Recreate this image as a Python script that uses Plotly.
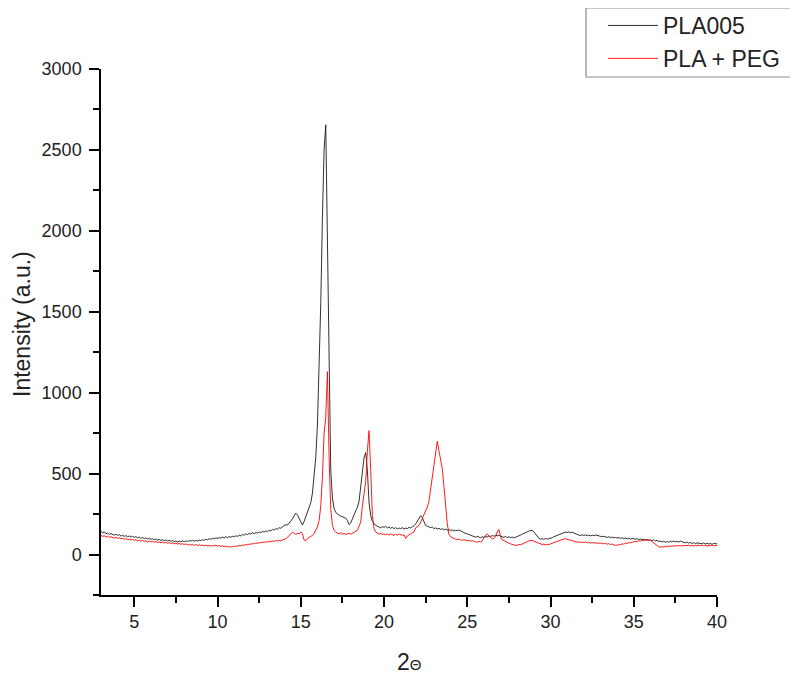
import plotly.graph_objects as go

# 2-theta grid (degrees), 0.1 deg step from 3.0 to 40.0
two_theta = [round(3.0 + 0.1 * i, 1) for i in range(371)]

# PLA005 intensities (a.u.)
pla005 = [
    142, 135, 140, 128, 133, 124, 130, 127, 120, 126,   # 3
    118, 123, 114, 119, 112, 117, 110, 115, 108, 113,   # 4
    106, 111, 103, 108, 100, 105, 98, 103, 96, 101,     # 5
    94, 98, 91, 96, 89, 93, 87, 92, 86, 90,             # 6
    84, 88, 81, 86, 79, 84, 78, 83, 80, 85,             # 7
    79, 84, 81, 86, 83, 88, 82, 87, 84, 89,             # 8
    86, 92, 88, 95, 91, 98, 94, 100, 97, 103,           # 9
    99, 105, 101, 108, 103, 110, 105, 111, 107, 113,    # 10
    109, 116, 112, 120, 115, 124, 119, 128, 123, 131,   # 11
    126, 134, 129, 137, 132, 140, 135, 143, 138, 146,   # 12
    141, 150, 146, 155, 151, 160, 156, 166, 162, 172,   # 13
    176, 185, 182, 195, 205, 220, 240, 256, 245, 220,   # 14
    200, 182, 205, 235, 262, 290, 320, 380, 470, 600,   # 15
    800, 1150, 1550, 2086, 2500, 2655, 1950, 1000, 520, 350,  # 16
    285, 260, 250, 243, 238, 235, 228, 225, 210, 185,   # 17
    195, 225, 245, 270, 290, 330, 430, 540, 600, 630,   # 18
    520, 320, 240, 205, 190, 180, 175, 170, 165, 172,   # 19
    168, 174, 165, 170, 162, 169, 160, 166, 158, 164,   # 20
    160, 166, 158, 163, 160, 168, 164, 172, 178, 190,   # 21
    205, 222, 240, 228, 200, 180, 175, 170, 166, 170,   # 22
    160, 165, 158, 162, 155, 160, 152, 157, 150, 155,   # 23
    148, 152, 145, 150, 147, 152, 146, 140, 135, 130,   # 24
    128, 124, 120, 115, 110, 107, 112, 108, 104, 110,   # 25
    106, 112, 108, 115, 110, 118, 113, 120, 116, 118,   # 26
    114, 110, 106, 112, 105, 110, 104, 108, 103, 107,   # 27
    110, 115, 120, 126, 132, 138, 142, 145, 148, 150,   # 28
    140, 125, 110, 100, 96, 98, 94, 99, 95, 97,         # 29
    100, 104, 110, 115, 120, 124, 128, 132, 135, 138,   # 30
    136, 140, 135, 138, 132, 128, 124, 120, 118, 122,   # 31
    118, 122, 116, 120, 115, 119, 117, 121, 118, 116,   # 32
    114, 110, 112, 108, 106, 110, 105, 108, 103, 106,   # 33
    102, 105, 100, 104, 98, 102, 97, 101, 95, 99,       # 34
    97, 95, 99, 93, 96, 92, 95, 90, 94, 89,             # 35
    90, 86, 92, 84, 88, 80, 83, 78, 82, 76,             # 36
    80, 76, 82, 78, 84, 79, 81, 77, 83, 78,             # 37
    76, 72, 78, 70, 75, 68, 74, 67, 72, 69,             # 38
    70, 66, 72, 64, 70, 65, 69, 63, 68, 66,             # 39
    66,                                                 # 40
]

# PLA + PEG intensities (a.u.)
pla_peg = [
    118, 112, 116, 108, 113, 106, 110, 105, 102, 107,   # 3
    100, 104, 97, 101, 94, 99, 92, 96, 90, 94,          # 4
    88, 92, 85, 89, 83, 87, 81, 85, 79, 84,             # 5
    78, 82, 76, 80, 74, 78, 72, 77, 71, 75,             # 6
    70, 74, 68, 72, 66, 70, 65, 69, 63, 67,             # 7
    62, 66, 60, 64, 58, 63, 57, 61, 56, 60,             # 8
    55, 59, 54, 58, 53, 57, 52, 56, 54, 58,             # 9
    52, 56, 50, 54, 48, 52, 46, 50, 45, 49,             # 10
    48, 53, 51, 56, 54, 59, 57, 62, 60, 65,             # 11
    63, 68, 66, 71, 69, 74, 72, 77, 75, 79,             # 12
    77, 82, 79, 84, 81, 86, 83, 88, 85, 90,             # 13
    92, 98, 106, 115, 125, 138, 132, 125, 130, 128,     # 14
    140, 128, 90, 85, 100, 108, 112, 118, 130, 150,     # 15
    170, 210, 300, 480, 746, 850, 1130, 600, 280, 180,  # 16
    150, 138, 132, 128, 135, 126, 130, 124, 128, 132,   # 17
    125, 130, 135, 142, 150, 175, 200, 300, 380, 450,   # 18
    640, 765, 520, 240, 160, 140, 132, 126, 130, 124,   # 19
    128, 122, 126, 120, 128, 123, 118, 125, 120, 127,   # 20
    124, 118, 122, 100, 115, 120, 126, 132, 140, 165,   # 21
    172, 180, 200, 225, 245, 265, 293, 330, 400, 478,   # 22
    560, 640, 700, 640, 570, 530, 420, 300, 190, 125,   # 23
    110, 104, 98, 95, 92, 96, 90, 88, 92, 86,           # 24
    85, 88, 82, 86, 80, 78, 76, 82, 79, 85,             # 25
    105, 120, 128, 115, 105, 97, 100, 110, 140, 155,    # 26
    110, 90, 87, 80, 74, 70, 66, 62, 58, 56,            # 27
    58, 62, 60, 66, 70, 75, 80, 84, 86, 88,             # 28
    82, 78, 72, 68, 65, 62, 64, 60, 63, 62,             # 29
    66, 70, 74, 78, 82, 86, 90, 94, 96, 97,             # 30
    94, 90, 86, 82, 80, 78, 76, 79, 75, 77,             # 31
    74, 78, 72, 76, 70, 74, 71, 73, 69, 72,             # 32
    68, 71, 66, 69, 64, 67, 62, 65, 58, 56,             # 33
    58, 62, 60, 66, 64, 70, 68, 74, 72, 76,             # 34
    78, 82, 80, 85, 83, 88, 86, 90, 88, 91,             # 35
    88, 80, 70, 60, 52, 48, 45, 48, 46, 50,             # 36
    48, 52, 50, 54, 51, 55, 52, 56, 53, 56,             # 37
    54, 57, 55, 58, 54, 57, 53, 56, 54, 58,             # 38
    55, 58, 54, 57, 53, 56, 55, 58, 54, 57,             # 39
    56,                                                 # 40
]

series_names = ["PLA005", "PLA + PEG"]
x_ticks = [5, 10, 15, 20, 25, 30, 35, 40]
y_ticks = [0, 500, 1000, 1500, 2000, 2500, 3000]

FONT = "Arial, Liberation Sans, Helvetica, sans-serif"
OFF = 8  # page body margin
W, H = 798 - OFF, 674 - OFF
# target plot area in page pixels: x 101..717, y 69..595
L, T = 101 - OFF, 69 - OFF
R = W - (717 - OFF)
B = H - (595 - OFF)
PW, PH = W - L - R, H - T - B


def px_to_paper_x(px):
    return (px - OFF - L) / PW


def py_to_paper_y(py):
    return (H - B - (py - OFF)) / PH


fig = go.Figure()
fig.add_trace(go.Scatter(x=two_theta, y=pla005, mode="lines", name=series_names[0],
                         legendgroup="a", line=dict(color="#1a1a1a", width=0.9)))
fig.add_trace(go.Scatter(x=two_theta, y=pla_peg, mode="lines", name=series_names[1],
                         legendgroup="b", line=dict(color="#ff0000", width=0.9)))

axis_common = dict(
    showline=True, linecolor="black", linewidth=1.5, mirror=False,
    ticks="outside", ticklen=10, tickwidth=1.5, tickcolor="black",
    showgrid=False, zeroline=False,
    tickfont=dict(family=FONT, size=18, color="#222222"),
)

fig.update_layout(
    width=W, height=H,
    margin=dict(l=L, r=R, t=T, b=B, autoexpand=False),
    paper_bgcolor="white", plot_bgcolor="white",
    font=dict(family=FONT, size=18, color="#222222"),
    xaxis=dict(range=[3, 40], tickvals=x_ticks,
               minor=dict(dtick=2.5, tick0=0, ticks="outside", ticklen=6, tickwidth=1.5, tickcolor="black"),
               **axis_common),
    yaxis=dict(range=[-250, 3000], tickvals=y_ticks, ticklabelstandoff=4,
               minor=dict(dtick=250, tick0=0, ticks="outside", ticklen=6, tickwidth=1.5, tickcolor="black"),
               **axis_common),
    annotations=[
        dict(text="2<span style='font-size:15px'>Θ</span>",
             xref="paper", yref="paper", x=0.5, y=py_to_paper_y(662),
             xanchor="center", yanchor="middle", showarrow=False,
             font=dict(family=FONT, size=23, color="#222222")),
        dict(text="Intensity (a.u.)", textangle=-90,
             xref="paper", yref="paper", x=px_to_paper_x(22), y=py_to_paper_y(324),
             xanchor="center", yanchor="middle", showarrow=False,
             font=dict(family=FONT, size=23, color="#222222")),
    ],
    showlegend=True,
    legend=dict(x=px_to_paper_x(603), y=py_to_paper_y(4),
                xanchor="left", yanchor="top",
                bgcolor="rgba(0,0,0,0)", borderwidth=0,
                font=dict(family=FONT, size=23, color="#222222"),
                tracegroupgap=0, itemwidth=50, traceorder="grouped"),
    shapes=[dict(type="rect", xref="paper", yref="paper",
                 x0=px_to_paper_x(586), x1=px_to_paper_x(830),
                 y0=py_to_paper_y(77), y1=py_to_paper_y(8),
                 line=dict(color="#8a8a8a", width=1.2), fillcolor="rgba(0,0,0,0)", layer="above")],
)

fig.write_html("out.html")
